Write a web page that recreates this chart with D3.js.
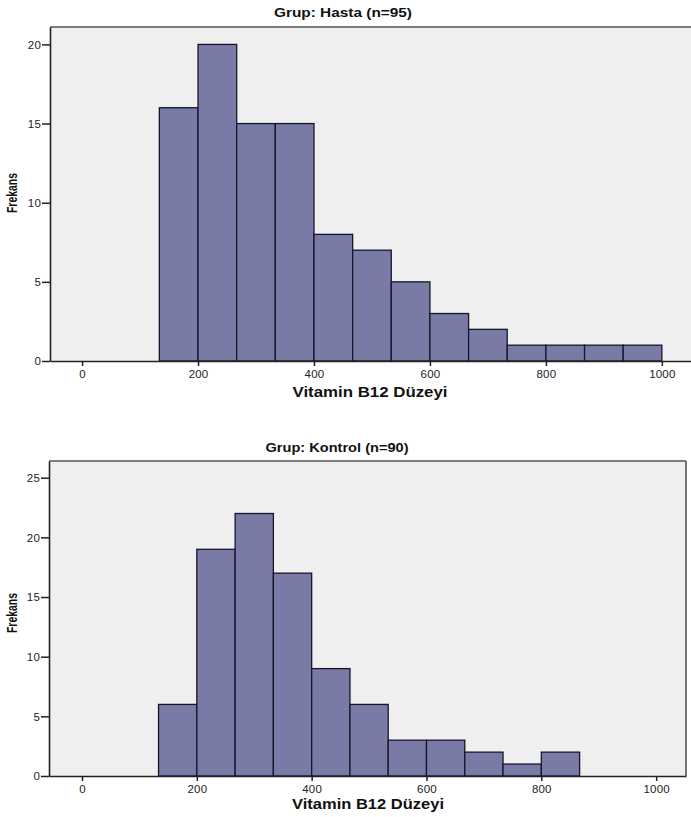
<!DOCTYPE html>
<html>
<head>
<meta charset="utf-8">
<script src="https://cdn.jsdelivr.net/npm/d3@7"></script>
<style>
  html, body { margin: 0; padding: 0; background: #ffffff; }
  svg { display: block; }
</style>
</head>
<body>
<svg id="chart" width="691" height="817"></svg>
<script>
// ---- data ----
const binLo = [133.3, 200, 266.7, 333.3, 400, 466.7, 533.3, 600, 666.7, 733.3, 800, 866.7, 933.3];
const binHi = [200, 266.7, 333.3, 400, 466.7, 533.3, 600, 666.7, 733.3, 800, 866.7, 933.3, 1000];
const hastaCounts = [16, 20, 15, 15, 8, 7, 5, 3, 2, 1, 1, 1, 1];
const kontrolCounts = [6, 19, 22, 17, 9, 6, 3, 3, 2, 1, 2, 0, 0];
const xTicks = [0, 200, 400, 600, 800, 1000];
const hastaYTicks = [0, 5, 10, 15, 20];
const kontrolYTicks = [0, 5, 10, 15, 20, 25];
const titles = ["Grup: Hasta (n=95)", "Grup: Kontrol (n=90)"];
const xLabel = "Vitamin B12 Düzeyi";
const yLabel = "Frekans";

const svg = d3.select("#chart");
const FONT = "'Liberation Sans', Arial, sans-serif";

function panel(cfg) {
  const g = svg.append("g");
  const x = d3.scaleLinear().domain(cfg.xDomain).range([cfg.left, cfg.right]);
  const y = d3.scaleLinear().domain(cfg.yDomain).range([cfg.bottom, cfg.top]);

  g.append("rect")
    .attr("x", cfg.left).attr("y", cfg.top)
    .attr("width", cfg.right - cfg.left).attr("height", cfg.bottom - cfg.top)
    .attr("fill", "#efefef")
    .attr("stroke", "none");
  g.append("line")
    .attr("x1", cfg.left).attr("x2", cfg.right)
    .attr("y1", cfg.top).attr("y2", cfg.top)
    .attr("stroke", "#555").attr("stroke-width", 1.6);
  if (cfg.rightBorder) {
    g.append("line")
      .attr("x1", cfg.right).attr("x2", cfg.right)
      .attr("y1", cfg.top).attr("y2", cfg.bottom)
      .attr("stroke", "#555").attr("stroke-width", 1.6);
  }

  const data = binLo.map((lo, i) => ({ lo, hi: binHi[i], n: cfg.counts[i] })).filter(d => d.n > 0);
  g.selectAll("rect.bar").data(data).enter().append("rect")
    .attr("class", "bar")
    .attr("x", d => x(d.lo))
    .attr("width", d => x(d.hi) - x(d.lo))
    .attr("y", d => y(d.n))
    .attr("height", d => y(0) - y(d.n))
    .attr("fill", "#7a7aa6")
    .attr("stroke", "#16162a")
    .attr("stroke-width", 1.3);

  const xAxis = d3.axisBottom(x).tickValues(xTicks).tickFormat(d3.format("d"))
    .tickSize(5).tickSizeOuter(0).tickPadding(4);
  const xg = g.append("g").attr("transform", `translate(0,${cfg.bottom})`).call(xAxis);
  xg.select(".domain").attr("stroke", "#222").attr("stroke-width", 1.6);
  xg.selectAll(".tick line").attr("stroke", "#222").attr("stroke-width", 1.5);
  xg.selectAll(".tick text").attr("font-family", FONT).attr("font-size", 11.5)
    .attr("letter-spacing", 0.2).attr("fill", "#222");

  const yAxis = d3.axisLeft(y).tickValues(cfg.yTicks).tickSize(8).tickSizeOuter(0).tickPadding(1);
  const yg = g.append("g").attr("transform", `translate(${cfg.left},0)`).call(yAxis);
  yg.select(".domain").attr("stroke", "#222").attr("stroke-width", 1.6);
  yg.selectAll(".tick line").attr("stroke", "#222").attr("stroke-width", 1.5);
  yg.selectAll(".tick text").attr("font-family", FONT).attr("font-size", 11.5)
    .attr("letter-spacing", 0.2).attr("fill", "#222");

  g.append("text")
    .attr("x", cfg.titleX).attr("y", cfg.titleY)
    .attr("text-anchor", "middle")
    .attr("font-family", FONT).attr("font-weight", "bold").attr("font-size", 12)
    .attr("textLength", cfg.titleLen).attr("lengthAdjust", "spacingAndGlyphs")
    .attr("fill", "#111")
    .text(cfg.title);

  g.append("text")
    .attr("x", cfg.xLabelX).attr("y", cfg.xLabelY)
    .attr("text-anchor", "middle")
    .attr("font-family", FONT).attr("font-weight", "bold").attr("font-size", 14)
    .attr("textLength", cfg.xLabelLen).attr("lengthAdjust", "spacingAndGlyphs")
    .attr("fill", "#111")
    .text(xLabel);

  g.append("text")
    .attr("transform", `translate(17,${cfg.yLabelY}) rotate(-90)`)
    .attr("text-anchor", "middle")
    .attr("font-family", "'Liberation Sans Narrow', 'Arial Narrow', " + FONT)
    .attr("font-weight", "bold").attr("font-size", 14.5)
    .attr("textLength", 40).attr("lengthAdjust", "spacingAndGlyphs")
    .attr("fill", "#111")
    .text(yLabel);
}

panel({
  counts: hastaCounts, yTicks: hastaYTicks, title: titles[0],
  xDomain: [-55.3, 1052], yDomain: [0, 21.1],
  left: 50, right: 692, top: 27, bottom: 361, rightBorder: false,
  titleX: 343, titleY: 17, titleLen: 138,
  xLabelX: 370, xLabelY: 397, xLabelLen: 155, yLabelY: 193
});

panel({
  counts: kontrolCounts, yTicks: kontrolYTicks, title: titles[1],
  xDomain: [-57.5, 1052], yDomain: [0, 26.4],
  left: 49, right: 686, top: 461, bottom: 776, rightBorder: true,
  titleX: 337, titleY: 452, titleLen: 143,
  xLabelX: 368, xLabelY: 809, xLabelLen: 152, yLabelY: 613
});
</script>
</body>
</html>
